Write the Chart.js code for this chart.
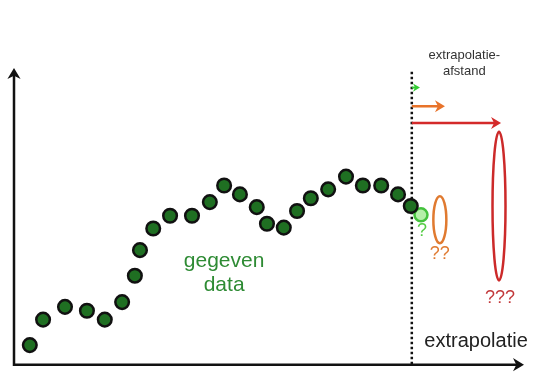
<!DOCTYPE html>
<html>
<head>
<meta charset="utf-8">
<script src="https://cdn.jsdelivr.net/npm/chart.js@4"></script>
<style>
  html, body { margin: 0; padding: 0; background: #fff; }
  #wrap { width: 534px; height: 374px; }
</style>
</head>
<body>
<div id="wrap"><canvas id="chart"></canvas></div>
<script>
// gegeven data (x = tijd, y = waarde, 0..100)
const dataX = [3.1, 5.7, 10.0, 14.3, 17.8, 21.2, 23.7, 24.7, 27.3, 30.6, 34.9, 38.4, 41.2,
               44.3, 47.6, 49.6, 52.9, 55.5, 58.2, 61.6, 65.1, 68.4, 72.0, 75.3, 77.8];
const dataY = [6.6, 15.2, 19.5, 18.2, 15.2, 21.1, 30.0, 38.6, 45.9, 50.2, 50.2, 54.8, 60.4,
               57.4, 53.1, 47.5, 46.2, 51.8, 56.1, 59.1, 63.4, 60.4, 60.4, 57.4, 53.5];

// eerste geëxtrapoleerde punt
const guessX = [79.8];
const guessY = [50.5];

// grens van de gegeven data
const limitX = 78.0;
const limitTop = 98.7;

// onzekerheid: [x, ymin, ymax]
const spreadOrange = [83.5, 40.9, 56.8];
const spreadRed = [95.1, 28.4, 78.5];

// extrapolatie-afstand pijlen: [y, x eind]
const arrowY = [93.4, 87.1, 81.5];
const arrowEnd = [79.6, 84.5, 95.5];
const arrowColors = ['#33cc33', '#e8732a', '#d42a2a'];

const labels = [
  { text: 'extrapolatie-', x: 88.3, y: 104.3, color: '#333', size: 13 },
  { text: 'afstand', x: 88.3, y: 98.7, color: '#333', size: 13 },
  { text: 'gegeven', x: 41.2, y: 35.0, color: '#2e8b34', size: 21 },
  { text: 'data', x: 41.2, y: 26.7, color: '#2e8b34', size: 21 },
  { text: '?', x: 80.0, y: 44.9, color: '#55cc44', size: 18 },
  { text: '??', x: 83.5, y: 37.3, color: '#e07a30', size: 18 },
  { text: '???', x: 95.3, y: 22.4, color: '#c2383a', size: 18 },
  { text: 'extrapolatie', x: 90.6, y: 7.9, color: '#222', size: 20 }
];

function arrowHead(ctx, x, y, dir, size) {
  ctx.save();
  ctx.translate(x, y);
  ctx.rotate(dir);
  ctx.beginPath();
  ctx.moveTo(0, 0);
  ctx.lineTo(-size, -size * 0.6);
  ctx.lineTo(-size * 0.7, 0);
  ctx.lineTo(-size, size * 0.6);
  ctx.closePath();
  ctx.fill();
  ctx.restore();
}

const drawing = {
  id: 'drawing',
  beforeDatasetsDraw(chart) {
    const ctx = chart.ctx;
    const xs = chart.scales.x, ys = chart.scales.y;
    const a = chart.chartArea;

    // assen
    ctx.save();
    ctx.strokeStyle = '#111';
    ctx.fillStyle = '#111';
    ctx.lineWidth = 2.5;
    ctx.beginPath();
    ctx.moveTo(a.left, a.top + 4);
    ctx.lineTo(a.left, a.bottom);
    ctx.lineTo(a.right - 4, a.bottom);
    ctx.stroke();
    arrowHead(ctx, a.left, a.top, -Math.PI / 2, 11);
    arrowHead(ctx, a.right, a.bottom, 0, 11);

    // gestippelde lijn
    ctx.setLineDash([2.5, 2.5]);
    ctx.lineWidth = 2.5;
    ctx.beginPath();
    ctx.moveTo(xs.getPixelForValue(limitX), ys.getPixelForValue(limitTop));
    ctx.lineTo(xs.getPixelForValue(limitX), a.bottom);
    ctx.stroke();
    ctx.setLineDash([]);

    // pijlen
    arrowY.forEach((y, i) => {
      const py = ys.getPixelForValue(y);
      const x0 = xs.getPixelForValue(limitX);
      const x1 = xs.getPixelForValue(arrowEnd[i]);
      ctx.strokeStyle = arrowColors[i];
      ctx.fillStyle = arrowColors[i];
      ctx.lineWidth = i === 0 ? 2 : 2.5;
      ctx.beginPath();
      ctx.moveTo(x0, py);
      ctx.lineTo(x1 - 4, py);
      ctx.stroke();
      arrowHead(ctx, x1, py, 0, i === 0 ? 7 : 10);
    });

    // ellipsen
    [[spreadOrange, '#e07a30'], [spreadRed, '#cc2a2a']].forEach(([s, col]) => {
      const cx = xs.getPixelForValue(s[0]);
      const y0 = ys.getPixelForValue(s[1]);
      const y1 = ys.getPixelForValue(s[2]);
      ctx.strokeStyle = col;
      ctx.lineWidth = 2.5;
      ctx.beginPath();
      ctx.ellipse(cx, (y0 + y1) / 2, 6.5, Math.abs(y0 - y1) / 2, 0, 0, Math.PI * 2);
      ctx.stroke();
    });

    // teksten
    ctx.textAlign = 'center';
    ctx.textBaseline = 'middle';
    labels.forEach(l => {
      ctx.fillStyle = l.color;
      ctx.font = l.size + 'px "Liberation Sans", Arial, sans-serif';
      ctx.fillText(l.text, xs.getPixelForValue(l.x), ys.getPixelForValue(l.y));
    });
    ctx.restore();
  }
};

new Chart(document.getElementById('chart'), {
  type: 'scatter',
  data: {
    datasets: [
      {
        data: dataX.map((x, i) => ({ x: x, y: dataY[i] })),
        backgroundColor: '#1f6f22',
        borderColor: '#111',
        borderWidth: 2.5,
        pointRadius: 6.8,
        clip: false
      },
      {
        data: guessX.map((x, i) => ({ x: x, y: guessY[i] })),
        backgroundColor: '#b5efa8',
        borderColor: '#44c23c',
        borderWidth: 2.5,
        pointRadius: 6.5,
        clip: false
      }
    ]
  },
  options: {
    responsive: true,
    maintainAspectRatio: false,
    animation: false,
    layout: { padding: { left: 14, right: 10, top: 68, bottom: 3 } },
    plugins: { legend: { display: false }, tooltip: { enabled: false } },
    scales: {
      x: { type: 'linear', min: 0, max: 100, display: false },
      y: { type: 'linear', min: 0, max: 100, display: false }
    }
  },
  plugins: [drawing]
});
</script>
</body>
</html>
